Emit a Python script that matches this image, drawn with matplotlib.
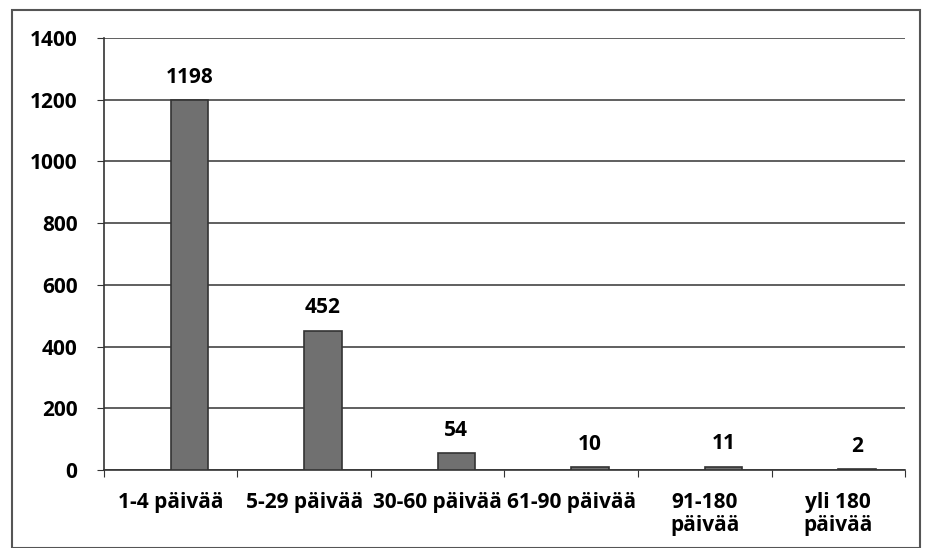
import matplotlib.pyplot as plt
from matplotlib.patches import Rectangle

categories = ['1-4 päivää', '5-29 päivää', '30-60 päivää', '61-90 päivää',
              '91-180\npäivää', 'yli 180\npäivää']
values = [1198, 452, 54, 10, 11, 2]
yticks = [0, 200, 400, 600, 800, 1000, 1200, 1400]

plt.rcParams['font.family'] = ['Open Sans', 'DejaVu Sans']
fs = 15

fig = plt.figure(figsize=(9.25, 5.48), dpi=100)
ax = fig.add_axes([0.1124, 0.1423, 0.8660, 0.7884])

# chart frame
fig.patches.append(Rectangle((0.013, 0.0), 0.982, 0.982, transform=fig.transFigure,
                             fill=False, edgecolor='#555555', linewidth=1.5))

# bars sit a bit right of the category centre, like the original
shift = 0.14
x = range(len(categories))
xb = [i + shift for i in x]
ax.bar(xb, values, width=0.28, color='#707070', edgecolor='#333333', linewidth=1.2, zorder=3)
for i, v in zip(xb, values):
    ax.text(i, v + 40, str(v), ha='center', va='bottom', fontsize=fs, fontweight='bold')

ax.set_xlim(-0.5, len(categories) - 0.5)
ax.set_ylim(0, 1400)
ax.set_yticks(yticks)
ax.set_yticklabels([str(t) for t in yticks], fontsize=fs, fontweight='bold')
ax.set_xticks([i - 0.5 for i in range(len(categories) + 1)], minor=False)
ax.set_xticklabels([])
ax.set_xticks(list(x), minor=True)
ax.set_xticklabels(categories, minor=True, fontsize=fs, fontweight='bold', va='top',
                   linespacing=1.1)
ax.tick_params(axis='x', which='minor', length=0, pad=16)
ax.tick_params(axis='x', which='major', length=5, color='#333333', direction='out')
ax.tick_params(axis='y', length=5, color='#333333', pad=14)

ax.yaxis.grid(True, color='#444444', linewidth=1.2, zorder=0)
for s in ['top', 'right']:
    ax.spines[s].set_visible(False)
ax.spines['left'].set_color('#333333')
ax.spines['bottom'].set_color('#333333')
ax.spines['left'].set_linewidth(1.2)
ax.spines['bottom'].set_linewidth(1.2)

fig.savefig('out.png', dpi=100)
